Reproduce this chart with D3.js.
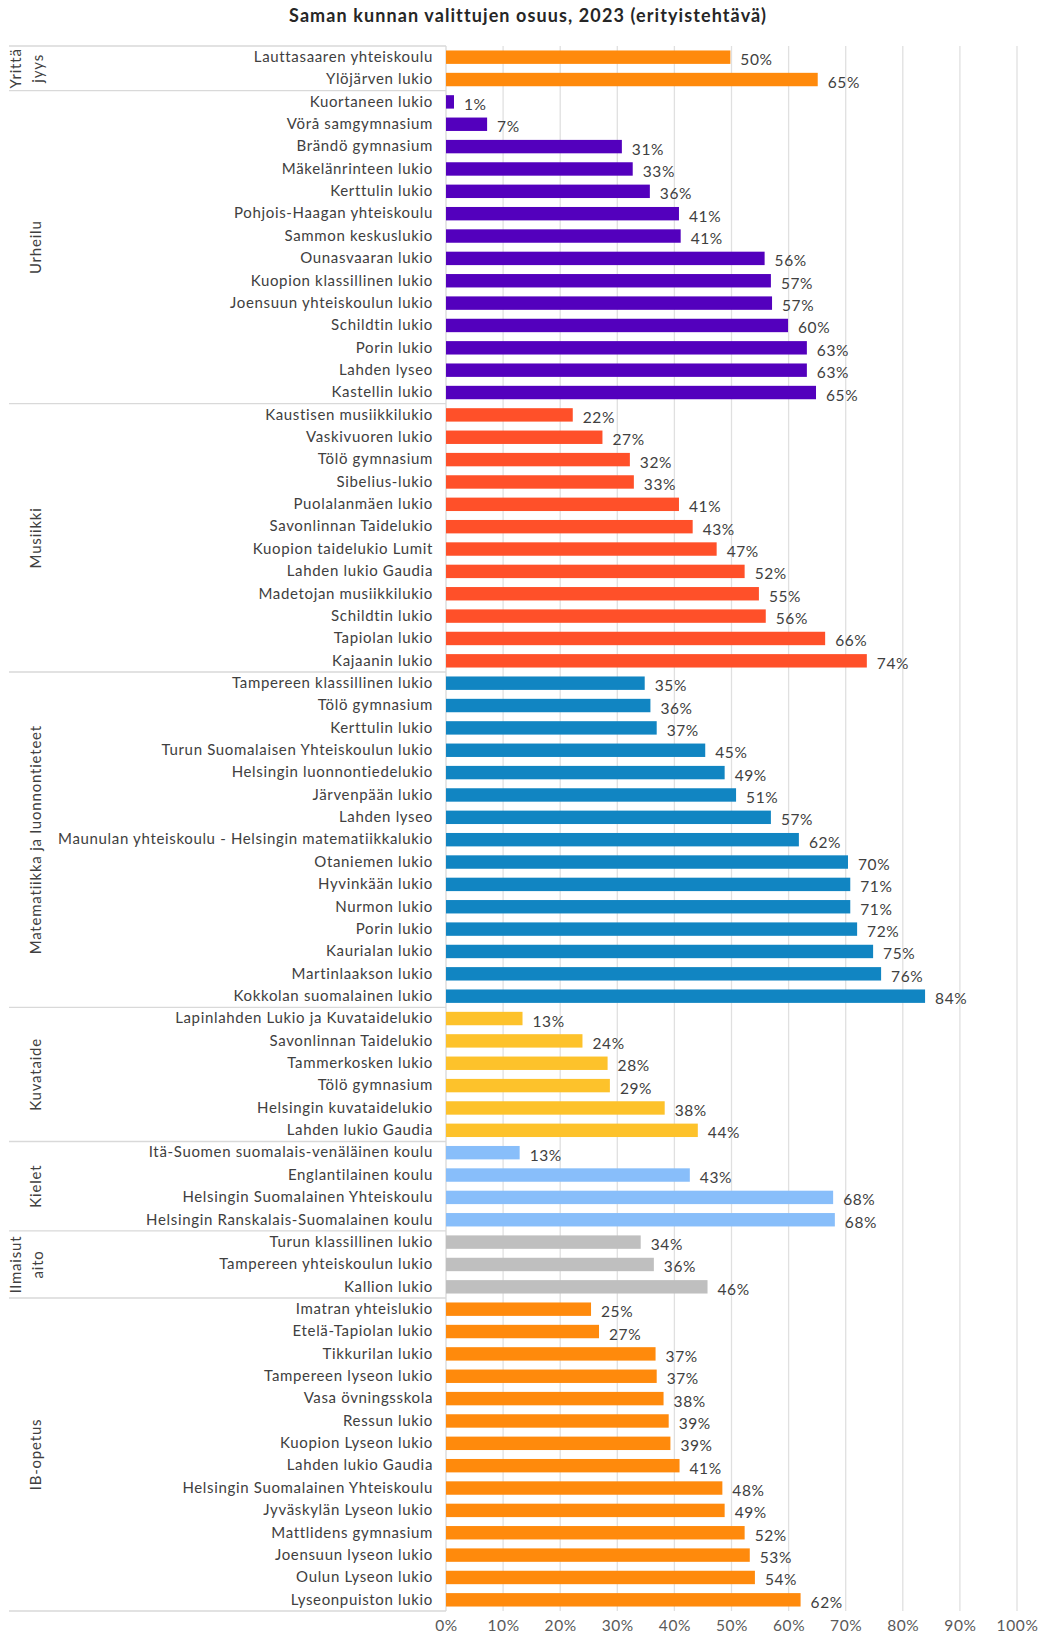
<!DOCTYPE html>
<html>
<head>
<meta charset="utf-8">
<script src="https://cdn.jsdelivr.net/npm/d3@7"></script>
<style>
  body { margin: 0; background: #fff; }
  svg text { font-family: Lato, "Noto Sans", sans-serif; }
</style>
</head>
<body>
<svg width="1038" height="1636"></svg>
<script>
// ryhmät (erityistehtävät) ja koulut, arvot prosentteina
const groupNames = ["Yrittäjyys", "Urheilu", "Musiikki", "Matematiikka ja luonnontieteet",
                    "Kuvataide", "Kielet", "Ilmaisutaito", "IB-opetus"];
const groupLabelLines = [["Yrittä", "jyys"], ["Urheilu"], ["Musiikki"], ["Matematiikka ja luonnontieteet"],
                         ["Kuvataide"], ["Kielet"], ["Ilmaisut", "aito"], ["IB-opetus"]];

const yrittajyysSchools = ["Lauttasaaren yhteiskoulu", "Ylöjärven lukio"];
const yrittajyysValues = [49.8, 65.1];

const urheiluSchools = ["Kuortaneen lukio", "Vörå samgymnasium", "Brändö gymnasium", "Mäkelänrinteen lukio",
  "Kerttulin lukio", "Pohjois-Haagan yhteiskoulu", "Sammon keskuslukio", "Ounasvaaran lukio",
  "Kuopion klassillinen lukio", "Joensuun yhteiskoulun lukio", "Schildtin lukio", "Porin lukio",
  "Lahden lyseo", "Kastellin lukio"];
const urheiluValues = [1.4, 7.2, 30.8, 32.7, 35.7, 40.8, 41.1, 55.8, 56.9, 57.1, 59.9, 63.2, 63.2, 64.8];

const musiikkiSchools = ["Kaustisen musiikkilukio", "Vaskivuoren lukio", "Tölö gymnasium", "Sibelius-lukio",
  "Puolalanmäen lukio", "Savonlinnan Taidelukio", "Kuopion taidelukio Lumit", "Lahden lukio Gaudia",
  "Madetojan musiikkilukio", "Schildtin lukio", "Tapiolan lukio", "Kajaanin lukio"];
const musiikkiValues = [22.2, 27.4, 32.2, 32.9, 40.8, 43.2, 47.4, 52.3, 54.8, 56.0, 66.4, 73.7];

const matematiikkaSchools = ["Tampereen klassillinen lukio", "Tölö gymnasium", "Kerttulin lukio",
  "Turun Suomalaisen Yhteiskoulun lukio", "Helsingin luonnontiedelukio", "Järvenpään lukio", "Lahden lyseo",
  "Maunulan yhteiskoulu - Helsingin matematiikkalukio", "Otaniemen lukio", "Hyvinkään lukio", "Nurmon lukio",
  "Porin lukio", "Kaurialan lukio", "Martinlaakson lukio", "Kokkolan suomalainen lukio"];
const matematiikkaValues = [34.8, 35.8, 36.9, 45.4, 48.8, 50.8, 56.9, 61.8, 70.4, 70.8, 70.8, 72.0, 74.8, 76.2, 83.9];

const kuvataideSchools = ["Lapinlahden Lukio ja Kuvataidelukio", "Savonlinnan Taidelukio", "Tammerkosken lukio",
  "Tölö gymnasium", "Helsingin kuvataidelukio", "Lahden lukio Gaudia"];
const kuvataideValues = [13.4, 23.9, 28.3, 28.7, 38.3, 44.1];

const kieletSchools = ["Itä-Suomen suomalais-venäläinen koulu", "Englantilainen koulu",
  "Helsingin Suomalainen Yhteiskoulu", "Helsingin Ranskalais-Suomalainen koulu"];
const kieletValues = [12.9, 42.7, 67.8, 68.1];

const ilmaisutaitoSchools = ["Turun klassillinen lukio", "Tampereen yhteiskoulun lukio", "Kallion lukio"];
const ilmaisutaitoValues = [34.1, 36.4, 45.8];

const ibSchools = ["Imatran yhteislukio", "Etelä-Tapiolan lukio", "Tikkurilan lukio", "Tampereen lyseon lukio",
  "Vasa övningsskola", "Ressun lukio", "Kuopion Lyseon lukio", "Lahden lukio Gaudia",
  "Helsingin Suomalainen Yhteiskoulu", "Jyväskylän Lyseon lukio", "Mattlidens gymnasium",
  "Joensuun lyseon lukio", "Oulun Lyseon lukio", "Lyseonpuiston lukio"];
const ibValues = [25.4, 26.8, 36.7, 36.9, 38.1, 39.0, 39.3, 40.9, 48.4, 48.8, 52.3, 53.2, 54.1, 62.1];

const xTicks = [0, 10, 20, 30, 40, 50, 60, 70, 80, 90, 100];

// värit ryhmittäin
const groupColors = ["#ff8a0c", "#5300bd", "#ff5029", "#1185c2", "#fdc22b", "#88befa", "#bfbfbf", "#ff8a0c"];

const groupSchools = [yrittajyysSchools, urheiluSchools, musiikkiSchools, matematiikkaSchools,
                      kuvataideSchools, kieletSchools, ilmaisutaitoSchools, ibSchools];
const groupValues = [yrittajyysValues, urheiluValues, musiikkiValues, matematiikkaValues,
                     kuvataideValues, kieletValues, ilmaisutaitoValues, ibValues];

// rivit yhteen listaan
let rows = [];
groupSchools.forEach((schools, g) => {
    schools.forEach((name, i) => {
        rows.push({id: rows.length, name: name, value: groupValues[g][i], group: g});
    });
});

const svg = d3.select("svg");
const mLeft = 446, mRight = 1017, mTop = 46, mBottom = 1611;

const x = d3.scaleLinear().domain([0, 100]).range([mLeft, mRight]);
const y = d3.scaleBand().domain(rows.map(d => d.id)).range([mTop, mBottom]).paddingInner(0.4).paddingOuter(0.2);

// otsikko
svg.append("text")
    .attr("x", 528).attr("y", 22)
    .attr("text-anchor", "middle")
    .attr("font-size", 18).attr("font-weight", "bold")
    .attr("letter-spacing", 1.1)
    .attr("fill", "#262626")
    .text("Saman kunnan valittujen osuus, 2023 (erityistehtävä)");

// pystysuorat apuviivat
svg.append("g").selectAll("line")
    .data(xTicks.slice(1))
    .join("line")
    .attr("x1", d => x(d)).attr("x2", d => x(d))
    .attr("y1", mTop).attr("y2", mBottom)
    .attr("stroke", "#e0e0e0").attr("stroke-width", 1.3);

// ryhmien rajat
let bounds = [0];
groupSchools.forEach(s => bounds.push(bounds[bounds.length - 1] + s.length));
const step = (mBottom - mTop) / rows.length;
const rowTop = i => mTop + i * step;

svg.append("g").selectAll("line")
    .data(bounds)
    .join("line")
    .attr("x1", 9).attr("x2", mLeft)
    .attr("y1", d => rowTop(d)).attr("y2", d => rowTop(d))
    .attr("stroke", "#d9d9d9").attr("stroke-width", 1.3);

svg.append("line")
    .attr("x1", mLeft).attr("x2", mLeft)
    .attr("y1", mTop).attr("y2", mBottom)
    .attr("stroke", "#d9d9d9").attr("stroke-width", 1.3);

// ryhmien nimet pystyyn
groupLabelLines.forEach((lines, g) => {
    const cy = (rowTop(bounds[g]) + rowTop(bounds[g + 1])) / 2;
    lines.forEach((line, k) => {
        const cx = lines.length == 1 ? 36 : (k == 0 ? 16 : 38);
        svg.append("text")
            .attr("transform", `translate(${cx + 5},${cy}) rotate(-90)`)
            .attr("text-anchor", "middle")
            .attr("font-size", 15)
            .attr("letter-spacing", 0.8)
            .attr("fill", "#404040")
            .text(line);
    });
});

// palkit
svg.append("g").selectAll("rect")
    .data(rows)
    .join("rect")
    .attr("x", x(0))
    .attr("y", d => y(d.id))
    .attr("width", d => x(d.value) - x(0))
    .attr("height", y.bandwidth())
    .attr("fill", d => groupColors[d.group]);

// arvot palkkien perään
svg.append("g").selectAll("text")
    .data(rows)
    .join("text")
    .attr("x", d => x(d.value) + 10)
    .attr("y", d => y(d.id) + y.bandwidth() / 2 + 8)
    .attr("font-size", 15.5)
    .attr("letter-spacing", 0.6)
    .attr("fill", "#404040")
    .text(d => Math.round(d.value) + "%");

// koulujen nimet
const yAxis = d3.axisLeft(y)
    .tickSize(0)
    .tickPadding(13)
    .tickFormat(i => rows[i].name);
svg.append("g")
    .attr("transform", `translate(${mLeft},0)`)
    .call(yAxis)
    .call(g => g.select(".domain").remove())
    .call(g => g.selectAll("text")
        .attr("font-family", "Lato, sans-serif")
        .attr("font-size", 15)
        .attr("fill", "#404040")
        .attr("letter-spacing", 0.66));

// x-akseli
const xAxis = d3.axisBottom(x)
    .tickValues(xTicks)
    .tickSize(0)
    .tickPadding(9)
    .tickFormat(d => d + "%");
svg.append("g")
    .attr("transform", `translate(0,${mBottom})`)
    .call(xAxis)
    .call(g => g.select(".domain").remove())
    .call(g => g.selectAll("text")
        .attr("font-family", "Lato, sans-serif")
        .attr("font-size", 15.5)
        .attr("letter-spacing", 0.6)
        .attr("fill", "#595959"));
</script>
</body>
</html>
